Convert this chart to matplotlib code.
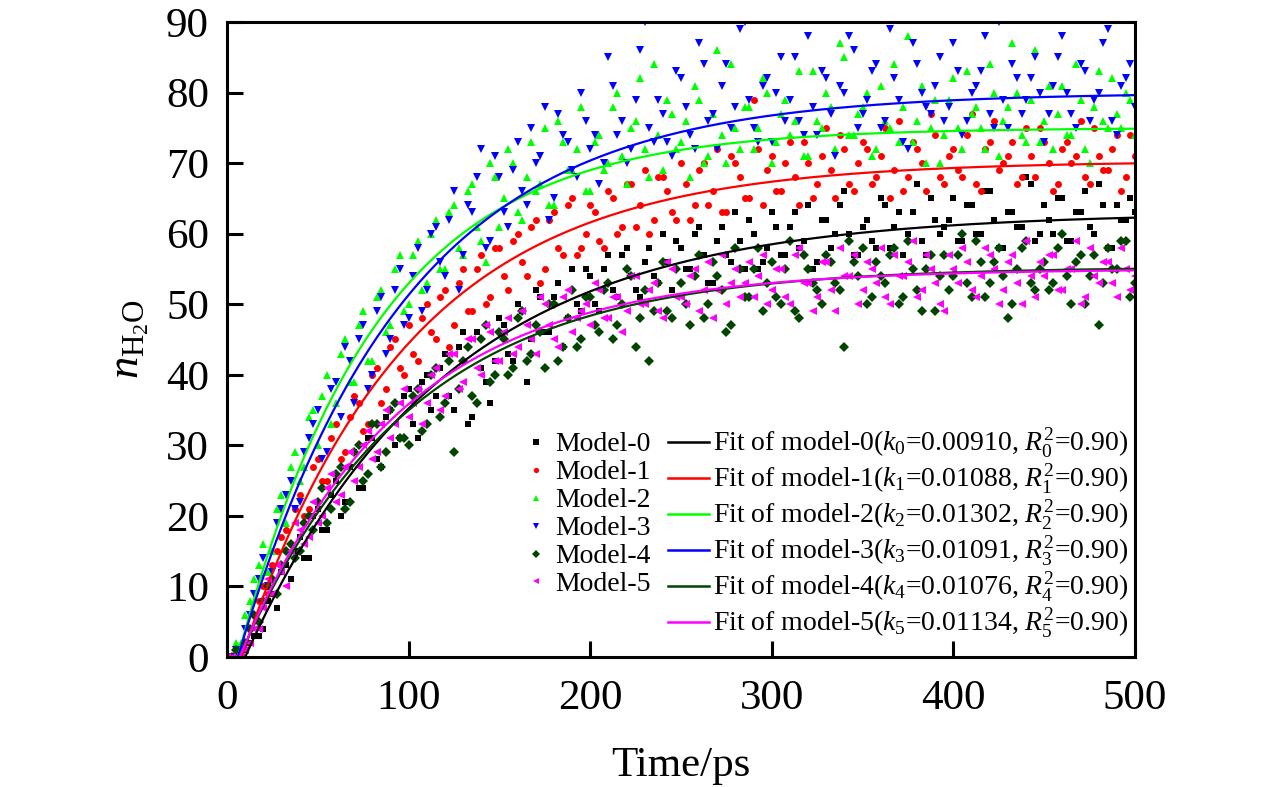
import matplotlib
matplotlib.use('Agg')
import matplotlib.pyplot as plt
import numpy as np
from matplotlib.lines import Line2D
from matplotlib.legend_handler import HandlerLine2D

plt.rcParams['font.family'] = ['Liberation Serif', 'DejaVu Serif']
plt.rcParams['mathtext.fontset'] = 'custom'
plt.rcParams['mathtext.rm'] = 'Liberation Serif'
plt.rcParams['mathtext.it'] = 'Liberation Serif:italic'

# sampled time points (ps): every 5 ps, plus the points in between
time_a = np.arange(0, 501, 5)
time_b = np.arange(2.5, 500, 5)

model0_a = [0, 0, 1, 3, 4, 9, 12, 11, 17, 14,
            21, 18, 25, 22, 29, 24, 31, 27, 35, 31,
            38, 31, 40, 37, 43, 35, 46, 34, 41, 36,
            48, 43, 50, 39, 52, 46, 51, 44, 55, 49,
            54, 49, 57, 51, 58, 52, 56, 54, 60, 52,
            58, 55, 61, 53, 59, 57, 63, 55, 60, 56,
            63, 57, 61, 58, 64, 56, 62, 60, 66, 57,
            61, 59, 65, 58, 63, 60, 67, 57, 62, 61,
            65, 59, 64, 60, 66, 58, 63, 61, 68, 59,
            64, 60, 65, 59, 63, 61, 67, 58, 64, 62,
            63]
model0_b = [0, 0, 2, 3, 8, 7, 13, 15, 14, 20,
            18, 23, 20, 27, 24, 31, 28, 34, 30, 37,
            33, 39, 35, 41, 37, 44, 33, 46, 39, 42,
            47, 42, 49, 45, 51, 46, 53, 48, 50, 55,
            50, 55, 52, 57, 54, 51, 58, 53, 56, 59,
            55, 60, 57, 53, 61, 56, 59, 62, 55, 58,
            61, 57, 63, 59, 55, 62, 58, 64, 60, 57,
            62, 58, 64, 61, 57, 63, 59, 65, 60, 62,
            59, 64, 60, 66, 62, 58, 63, 61, 67, 60,
            62, 65, 59, 63, 66, 60, 64, 58, 62, 65]
model1_a = [0, 1, 2, 6, 10, 13, 17, 16, 23, 21,
            28, 25, 33, 29, 37, 32, 40, 36, 44, 41,
            47, 42, 50, 45, 52, 47, 55, 49, 57, 51,
            58, 52, 60, 54, 62, 55, 63, 57, 65, 58,
            64, 59, 66, 60, 67, 61, 69, 62, 68, 63,
            70, 62, 69, 64, 72, 63, 70, 65, 79, 64,
            71, 66, 73, 64, 70, 67, 75, 65, 72, 66,
            73, 67, 71, 65, 76, 68, 72, 66, 74, 67,
            72, 68, 77, 66, 73, 69, 71, 67, 75, 68,
            73, 66, 72, 70, 76, 67, 71, 69, 74, 68,
            71]
model1_b = [0, 0, 4, 8, 9, 15, 18, 21, 20, 27,
            25, 31, 28, 34, 36, 33, 41, 38, 45, 40,
            43, 48, 46, 51, 44, 53, 49, 55, 50, 58,
            54, 59, 56, 61, 53, 62, 58, 64, 57, 60,
            63, 58, 65, 61, 67, 64, 60, 68, 66, 62,
            67, 64, 70, 66, 63, 71, 68, 65, 72, 69,
            66, 70, 68, 73, 65, 71, 69, 74, 67, 70,
            72, 68, 75, 69, 66, 73, 70, 77, 68, 71,
            69, 74, 67, 72, 76, 70, 73, 68, 71, 75,
            70, 67, 73, 71, 68, 75, 69, 72, 66, 74]
model2_a = [0, 2, 6, 11, 16, 15, 23, 27, 25, 34,
            30, 40, 36, 45, 39, 49, 42, 52, 47, 57,
            50, 59, 53, 62, 55, 64, 57, 67, 59, 70,
            61, 72, 63, 68, 66, 75, 64, 73, 69, 78,
            66, 74, 70, 80, 67, 76, 72, 84, 69, 77,
            73, 68, 79, 71, 86, 70, 75, 78, 72, 82,
            70, 77, 74, 83, 71, 76, 80, 72, 85, 74,
            78, 71, 81, 75, 73, 88, 76, 70, 79, 74,
            82, 72, 77, 75, 84, 71, 78, 80, 73, 86,
            76, 72, 81, 74, 79, 70, 83, 75, 77, 80,
            74]
model2_b = [0, 2, 8, 13, 12, 21, 19, 29, 27, 35,
            37, 33, 43, 39, 47, 42, 51, 46, 55, 49,
            57, 52, 60, 55, 63, 58, 66, 61, 56, 68,
            65, 70, 62, 73, 67, 64, 76, 69, 72, 66,
            73, 69, 78, 71, 75, 82, 68, 74, 79, 72,
            76, 81, 70, 77, 74, 84, 72, 78, 75, 80,
            73, 79, 76, 71, 83, 75, 78, 87, 74, 77,
            80, 72, 76, 84, 78, 73, 81, 75, 70, 79,
            75, 83, 78, 72, 80, 76, 87, 74, 79, 73,
            81, 77, 74, 84, 72, 78, 76, 82, 75, 79]
model3_a = [0, 1, 4, 9, 14, 12, 21, 25, 22, 31,
            35, 29, 39, 44, 36, 47, 40, 51, 45, 55,
            48, 58, 52, 61, 54, 66, 57, 63, 72, 59,
            68, 61, 73, 64, 70, 78, 65, 74, 69, 80,
            72, 67, 85, 74, 70, 79, 90, 73, 77, 71,
            82, 74, 87, 76, 72, 84, 78, 90, 75, 81,
            73, 85, 79, 76, 88, 74, 82, 71, 80, 86,
            77, 83, 75, 89, 79, 72, 84, 78, 81, 76,
            87, 74, 80, 83, 77, 90, 75, 82, 79, 85,
            73, 81, 88, 77, 84, 76, 80, 89, 74, 82,
            78]
model3_b = [0, 1, 6, 11, 10, 19, 23, 21, 29, 33,
            28, 38, 34, 42, 45, 38, 49, 43, 52, 47,
            54, 49, 60, 56, 62, 52, 64, 68, 58, 71,
            63, 69, 66, 75, 71, 62, 77, 73, 68, 76,
            74, 70, 81, 76, 72, 86, 75, 79, 73, 83,
            78, 72, 84, 77, 81, 75, 89, 79, 73, 82,
            80, 76, 85, 74, 78, 83, 77, 81, 88, 75,
            79, 84, 76, 82, 73, 87, 80, 77, 85, 78,
            83, 76, 81, 88, 75, 79, 84, 77, 82, 80,
            77, 85, 80, 75, 83, 79, 87, 76, 81, 84]
model4_a = [0, 1, 2, 6, 8, 11, 13, 16, 15, 20,
            22, 19, 26, 21, 29, 25, 33, 27, 35, 31,
            30, 38, 33, 41, 36, 29, 42, 37, 45, 39,
            46, 40, 48, 42, 47, 41, 50, 44, 52, 45,
            51, 46, 53, 47, 55, 44, 52, 49, 56, 48,
            53, 47, 57, 50, 54, 46, 58, 51, 55, 49,
            56, 50, 59, 48, 55, 52, 57, 53, 44, 56,
            58, 51, 54, 57, 50, 59, 52, 55, 49, 57,
            54, 60, 51, 56, 53, 58, 48, 55, 59, 52,
            56, 53, 60, 50, 57, 54, 47, 58, 55, 59,
            53]
model4_b = [0, 0, 4, 5, 10, 9, 15, 14, 19, 18,
            24, 21, 27, 22, 30, 26, 33, 29, 36, 31,
            37, 32, 40, 34, 42, 38, 44, 36, 47, 40,
            45, 41, 49, 43, 46, 50, 42, 48, 44, 51,
            47, 52, 45, 50, 54, 48, 42, 53, 49, 55,
            50, 54, 48, 56, 52, 47, 55, 51, 58, 53,
            51, 55, 49, 57, 53, 50, 56, 52, 59, 54,
            50, 56, 53, 58, 51, 55, 49, 57, 54, 52,
            57, 53, 59, 51, 56, 54, 50, 58, 53, 55,
            52, 58, 54, 56, 50, 57, 53, 55, 59, 51]
model5_a = [0, 0, 1, 4, 7, 9, 12, 15, 18, 17,
            19, 24, 22, 27, 25, 30, 28, 33, 31, 36,
            34, 38, 36, 41, 37, 43, 39, 45, 40, 46,
            42, 48, 44, 47, 43, 50, 45, 51, 46, 49,
            47, 52, 48, 51, 49, 54, 50, 53, 48, 55,
            51, 54, 49, 56, 52, 50, 55, 53, 51, 57,
            52, 55, 50, 58, 53, 51, 56, 49, 54, 57,
            52, 55, 58, 50, 54, 56, 51, 57, 53, 49,
            55, 58, 52, 54, 57, 50, 56, 53, 59, 51,
            54, 57, 52, 55, 50, 58, 53, 56, 51, 55,
            54]
model5_b = [0, 0, 2, 4, 11, 13, 10, 19, 16, 22,
            20, 26, 23, 29, 27, 32, 29, 35, 33, 38,
            36, 33, 40, 35, 43, 38, 45, 41, 47, 42,
            46, 43, 49, 45, 51, 47, 44, 52, 48, 50,
            53, 48, 51, 46, 54, 50, 52, 49, 56, 51,
            50, 55, 52, 48, 57, 53, 51, 56, 54, 50,
            55, 51, 57, 53, 49, 56, 52, 58, 54, 50,
            56, 53, 51, 57, 54, 59, 52, 55, 50, 57,
            53, 56, 51, 58, 55, 52, 57, 50, 54, 56,
            57, 52, 55, 59, 51, 54, 56, 53, 58, 52]

# fit parameters: rate constant k (from legend), plateau, onset time
k_vals = [0.00910, 0.01088, 0.01302, 0.01091, 0.01076, 0.01134]
plateau = [63.0, 70.3, 75.0, 80.0, 55.3, 55.0]
onset = [10, 8, 6, 6, 7, 7]
r2 = [0.90] * 6

series_a = [model0_a, model1_a, model2_a, model3_a, model4_a, model5_a]
series_b = [model0_b, model1_b, model2_b, model3_b, model4_b, model5_b]
colors = ['#000000', '#ff0000', '#00ff00', '#0000ff', '#004400', '#ff00ff']
markers = ['s', 'o', '^', 'v', 'D', '<']
msizes = [4.8, 5.0, 6.3, 6.3, 4.8, 6.3]


class MarkerNearText(HandlerLine2D):
    # legend handler that puts the single marker close to the label
    def create_artists(self, legend, orig_handle, xdescent, ydescent,
                       width, height, fontsize, trans):
        m = Line2D([width - 0.55 * fontsize - xdescent],
                   [height / 2.0 - ydescent],
                   linestyle='none', marker=orig_handle.get_marker(),
                   color=orig_handle.get_color(),
                   markersize=orig_handle.get_markersize(),
                   markeredgewidth=0)
        m.set_transform(trans)
        return [m]


fig = plt.figure(figsize=(12.76, 7.87), dpi=100)
ax = fig.add_axes([227/1276, 1-657/787, 908/1276, 635/787])

for i in range(6):
    tt_i = np.concatenate([time_a, time_b])
    yy_i = np.concatenate([series_a[i], series_b[i]])
    ax.plot(tt_i, yy_i, linestyle='none', marker=markers[i],
            color=colors[i], markersize=msizes[i], markeredgewidth=0)

tt = np.linspace(0, 500, 1001)
for i in range(6):
    t = tt[tt >= onset[i]]
    y = plateau[i] * (1 - np.exp(-k_vals[i] * (t - onset[i])))
    ax.plot(t, y, color=colors[i], lw=1.6)

handles = []
labels = []
hmap = {}
for i in range(6):
    h = Line2D([], [], linestyle='none', marker=markers[i],
               color=colors[i], markersize=3.8, markeredgewidth=0)
    handles.append(h)
    hmap[h] = MarkerNearText()
    labels.append('Model-%d' % i)
for i in range(6):
    handles.append(Line2D([], [], color=colors[i], lw=1.8))
    labels.append('Fit of model-%d($k_{%d}$=%.5f, $R_{%d}^{2}$=%.2f)'
                  % (i, i, k_vals[i], i, r2[i]))

leg = ax.legend(handles, labels, ncol=2, loc='upper left',
                bbox_to_anchor=(496/1276, 1-413/787),
                bbox_transform=fig.transFigure, handler_map=hmap,
                frameon=False, fontsize=20, borderpad=0,
                handlelength=1.5, handletextpad=0.12, columnspacing=0.62,
                labelspacing=0.09)

ax.set_xlim(0, 500)
ax.set_ylim(0, 90)
ax.set_xticks(np.arange(0, 501, 100))
ax.set_yticks(np.arange(0, 91, 10))
ax.tick_params(direction='in', length=11.5, width=2.2, labelsize=31,
               top=False, right=False)
ax.tick_params(axis='x', pad=16)
ax.tick_params(axis='y', pad=13)
for s in ax.spines.values():
    s.set_linewidth(2.2)

ax.set_xlabel('Time/ps', fontsize=31, labelpad=21)
ax.set_ylabel(r'$n_{\mathrm{H_2O}}$', fontsize=32)
ax.yaxis.set_label_coords(-0.084, 0.5)

fig.savefig('out.png', dpi=100)
